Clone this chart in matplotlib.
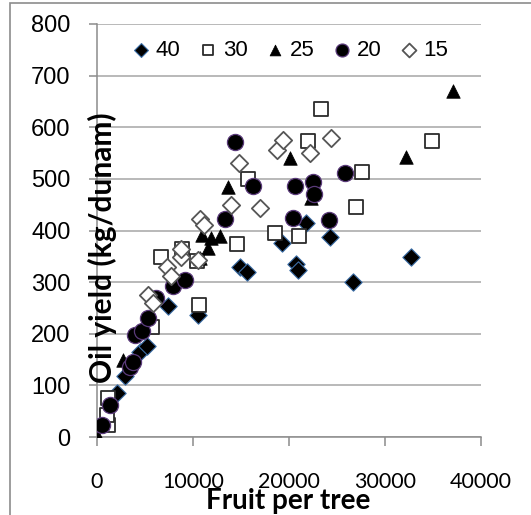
import matplotlib
matplotlib.use('Agg')
import matplotlib.pyplot as plt
from matplotlib.patches import Rectangle

# fruit per tree (x) and oil yield kg/dunam (y), one pair of lists per spacing group
fruit_40 = [700, 2050, 2900, 4480, 5180, 7400, 10520, 14900, 15600, 19240, 20730, 20970, 21770, 24270, 26670, 32670]
oil_40 = [25, 85, 118, 165, 177, 254, 236, 329, 320, 376, 335, 323, 414, 388, 301, 348]

fruit_30 = [1150, 1010, 1150, 5700, 6670, 8820, 10380, 10630, 14620, 15760, 18540, 21080, 21940, 23300, 26940, 27640, 34860]
oil_30 = [23, 43, 75, 214, 348, 365, 340, 256, 374, 500, 396, 390, 573, 635, 446, 514, 573]

fruit_25 = [100, 2700, 3300, 10700, 11600, 10900, 11900, 12800, 13600, 20100, 22300, 32200, 37100]
oil_25 = [0, 150, 142, 347, 366, 392, 385, 390, 484, 540, 462, 542, 670]

fruit_20 = [500, 1400, 3400, 3700, 4000, 4650, 5300, 6150, 7950, 9200, 13300, 14400, 16200, 20400, 20600, 22500, 22650, 24200, 25800]
oil_20 = [23, 62, 136, 146, 198, 205, 230, 269, 292, 304, 422, 572, 487, 424, 486, 493, 470, 420, 512]

fruit_15 = [5300, 5800, 7300, 7700, 8700, 8800, 10500, 10700, 11100, 14000, 14800, 17000, 18700, 19400, 22200, 24400]
oil_15 = [275, 259, 330, 312, 349, 365, 343, 423, 411, 449, 530, 443, 556, 575, 551, 580]

series_labels = ['40', '30', '25', '20', '15']
x_ticks = [0, 10000, 20000, 30000, 40000]
y_ticks = [0, 100, 200, 300, 400, 500, 600, 700, 800]

W, H = 531, 515
fig = plt.figure(figsize=(W / 100, H / 100), dpi=100)
ax = fig.add_axes([97 / W, 1 - 437 / H, (481 - 97) / W, (437 - 24) / H])

# chart-area border (runs off the right and bottom edges)
fig.patches.append(Rectangle((10 / W, -0.05), 1.2, 1.05 - 3 / H, transform=fig.transFigure,
                             fill=False, edgecolor='#8c8c8c', lw=1.2))

ax.scatter(fruit_40, oil_40, marker='D', s=78, c='black', edgecolors='#3d6fa8', linewidths=0.8,
           label=series_labels[0], zorder=3)
ax.scatter(fruit_30, oil_30, marker='s', s=88, c='white', edgecolors='#2b2b2b', linewidths=1.3,
           label=series_labels[1], zorder=3)
ax.scatter(fruit_25, oil_25, marker='^', s=95, c='black', edgecolors='black', linewidths=0.5,
           label=series_labels[2], zorder=3)
ax.scatter(fruit_20, oil_20, marker='o', s=135, c='black', edgecolors='#5a3a7a', linewidths=0.9,
           label=series_labels[3], zorder=3)
ax.scatter(fruit_15, oil_15, marker='D', s=78, c='white', edgecolors='#555555', linewidths=1.3,
           label=series_labels[4], zorder=3)

ax.set_xlim(0, 40000)
ax.set_ylim(0, 800)
ax.set_xticks(x_ticks)
ax.set_xticklabels([str(t) for t in x_ticks], fontfamily='Lato', fontsize=15.5)
ax.set_yticks(y_ticks)
ax.set_yticklabels([str(t) for t in y_ticks], fontfamily='Liberation Sans', fontsize=17)

ax.yaxis.grid(True, color='#a6a6a6', lw=1.1)
ax.set_axisbelow(True)
for side in ('top', 'right'):
    ax.spines[side].set_visible(False)
for side in ('left', 'bottom'):
    ax.spines[side].set_color('#8c8c8c')
    ax.spines[side].set_linewidth(1.1)
ax.tick_params(axis='y', length=6, width=1.1, color='#8c8c8c', pad=13, labelcolor='black')
ax.tick_params(axis='x', length=6.5, width=1.1, color='#8c8c8c', pad=19, labelcolor='black')

# axis titles sit on top of the tick labels / plot area
fig.text(288 / W, 1 - 501 / H, 'Fruit per tree', fontfamily='Lato', fontweight='bold',
         fontsize=20, ha='center', va='center')
fig.text(102 / W, 1 - 248 / H, 'Oil yield (kg/dunam)', fontfamily='Lato', fontweight='bold',
         fontsize=21.5, ha='center', va='center', rotation=90)

leg = ax.legend(loc='center', bbox_to_anchor=(291 / W, 1 - 50 / H), bbox_transform=fig.transFigure,
                ncol=5, frameon=False, handlelength=0.7, handletextpad=0.3, columnspacing=0.9,
                markerscale=0.8, borderaxespad=0, prop={'family': 'Liberation Sans', 'size': 16})

fig.savefig('out.png', dpi=100)
